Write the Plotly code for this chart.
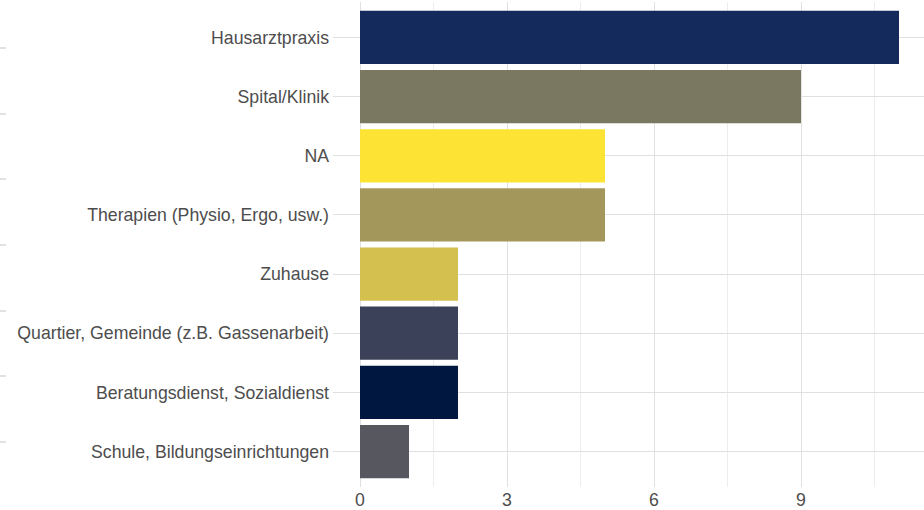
import plotly.graph_objects as go

categories = [
    "Hausarztpraxis",
    "Spital/Klinik",
    "NA",
    "Therapien (Physio, Ergo, usw.)",
    "Zuhause",
    "Quartier, Gemeinde (z.B. Gassenarbeit)",
    "Beratungsdienst, Sozialdienst",
    "Schule, Bildungseinrichtungen",
]
values = [11, 9, 5, 5, 2, 2, 2, 1]
colors = ["#152a5c", "#7b7862", "#fde333", "#a3975c",
          "#d3c04f", "#3b4159", "#00183f", "#57585f"]
x_ticks = [0, 3, 6, 9]

W, H = 924, 510
L, R, T, B = 333, 0, 2, 23

fig = go.Figure(go.Bar(
    x=values, y=categories, orientation="h",
    marker=dict(color=colors, line=dict(width=0)),
    width=0.9,
))

pw = W - L - R
px_per_unit = 49.0
x0 = -27 / px_per_unit

fig.update_layout(
    width=W, height=H,
    margin=dict(l=L, r=R, t=T, b=B, autoexpand=False),
    plot_bgcolor="white", paper_bgcolor="white",
    showlegend=False,
    font=dict(family="Liberation Sans, Arial, sans-serif", size=17.7, color="#4d4d4d"),
    xaxis=dict(
        range=[x0, x0 + pw / px_per_unit],
        tickvals=x_ticks, ticktext=[str(v) for v in x_ticks],
        showgrid=True, gridcolor="#e0e0e0", gridwidth=1,
        zeroline=False, showline=False, ticks="",
        minor=dict(tickvals=[1.5, 4.5, 7.5, 10.5], showgrid=True,
                   gridcolor="#ededed", gridwidth=1),
        tickfont=dict(size=17.7, color="#4d4d4d"),
    ),
    yaxis=dict(
        categoryorder="array", categoryarray=categories[::-1],
        range=[-0.6, 7.6],
        showgrid=True, gridcolor="#e0e0e0", gridwidth=1,
        zeroline=False, showline=False, ticks="",
        ticklabelstandoff=3,
        tickfont=dict(size=17.7, color="#4d4d4d"),
    ),
    bargap=0.1,
)

# faint edge marks at the far left of the image
ph = H - T - B
for ypx in [48, 114, 179, 245, 311, 376, 442]:
    fig.add_shape(type="line", xref="paper", yref="paper",
                  x0=(0 - L) / pw, x1=(6 - L) / pw,
                  y0=(H - B - ypx) / ph, y1=(H - B - ypx) / ph,
                  line=dict(color="#d8d8d8", width=1.5))

fig.write_html(
    "out.html",
    config={"displayModeBar": False},
    post_script="document.body.style.margin='0';document.body.style.overflow='hidden';",
)
